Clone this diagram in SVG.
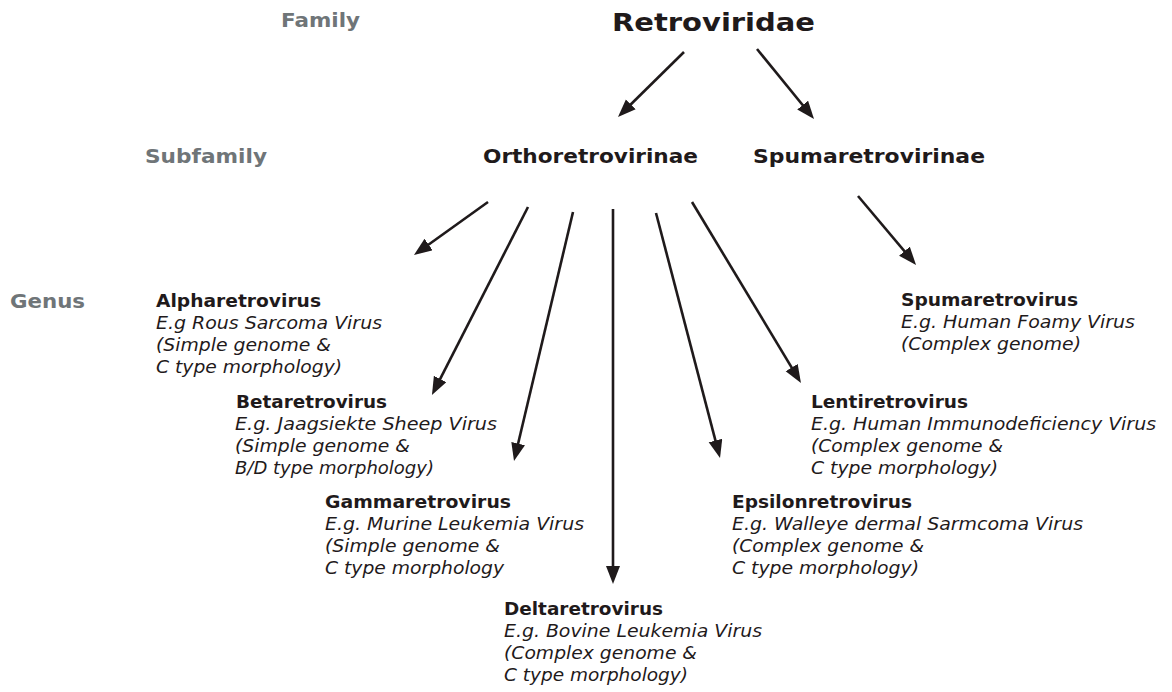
<svg xmlns="http://www.w3.org/2000/svg" width="1172" height="692" viewBox="0 0 1172 692">
  <style>
    text { font-family: "DejaVu Sans", Verdana, sans-serif; fill: #1f1a1b; }
    .rank { font-weight: bold; font-size: 19px; fill: #6f7578; }
    .top { font-weight: bold; font-size: 24px; }
    .sub { font-weight: bold; font-size: 20px; }
    .name { font-weight: bold; font-size: 18px; }
    .ex { font-style: italic; font-size: 18px; }
    .arrow { stroke: #1f1a1b; stroke-width: 2.6; fill: none; marker-end: url(#head); }
  </style>
  <defs>
    <marker id="head" markerUnits="userSpaceOnUse" markerWidth="20" markerHeight="16" refX="8" refY="7" orient="auto">
      <path d="M0,0 L18,7 L0,14 z" fill="#1f1a1b"/>
    </marker>
  </defs>

  <rect width="1172" height="692" fill="#ffffff"/>

  <!-- rank labels -->
  <g id="ranks">
    <text class="rank" x="281" y="27" textLength="79" lengthAdjust="spacingAndGlyphs">Family</text>
    <text class="rank" x="145" y="163" textLength="122" lengthAdjust="spacingAndGlyphs">Subfamily</text>
    <text class="rank" x="10" y="308" textLength="75" lengthAdjust="spacingAndGlyphs">Genus</text>
  </g>

  <g id="retroviridae"><text class="top" x="612" y="31" textLength="203" lengthAdjust="spacingAndGlyphs">Retroviridae</text></g>
  <g id="orthoretrovirinae"><text class="sub" x="483" y="163" textLength="215" lengthAdjust="spacingAndGlyphs">Orthoretrovirinae</text></g>
  <g id="spumaretrovirinae"><text class="sub" x="753" y="163" textLength="232" lengthAdjust="spacingAndGlyphs">Spumaretrovirinae</text></g>

  <g id="alpharetrovirus">
    <text class="name" x="156" y="307" textLength="165" lengthAdjust="spacingAndGlyphs">Alpharetrovirus</text>
    <text class="ex" x="156" y="329" textLength="226" lengthAdjust="spacingAndGlyphs">E.g Rous Sarcoma Virus</text>
    <text class="ex" x="156" y="351" textLength="175" lengthAdjust="spacingAndGlyphs">(Simple genome &amp;</text>
    <text class="ex" x="156" y="373" textLength="186" lengthAdjust="spacingAndGlyphs">C type morphology)</text>
  </g>
  <g id="betaretrovirus">
    <text class="name" x="236" y="408" textLength="151" lengthAdjust="spacingAndGlyphs">Betaretrovirus</text>
    <text class="ex" x="235" y="430" textLength="262" lengthAdjust="spacingAndGlyphs">E.g. Jaagsiekte Sheep Virus</text>
    <text class="ex" x="235" y="452" textLength="175" lengthAdjust="spacingAndGlyphs">(Simple genome &amp;</text>
    <text class="ex" x="235" y="474" textLength="199" lengthAdjust="spacingAndGlyphs">B/D type morphology)</text>
  </g>
  <g id="gammaretrovirus">
    <text class="name" x="325" y="508" textLength="186" lengthAdjust="spacingAndGlyphs">Gammaretrovirus</text>
    <text class="ex" x="325" y="530" textLength="259" lengthAdjust="spacingAndGlyphs">E.g. Murine Leukemia Virus</text>
    <text class="ex" x="325" y="552" textLength="175" lengthAdjust="spacingAndGlyphs">(Simple genome &amp;</text>
    <text class="ex" x="325" y="574" textLength="179" lengthAdjust="spacingAndGlyphs">C type morphology</text>
  </g>
  <g id="deltaretrovirus">
    <text class="name" x="504" y="615" textLength="159" lengthAdjust="spacingAndGlyphs">Deltaretrovirus</text>
    <text class="ex" x="504" y="637" textLength="258" lengthAdjust="spacingAndGlyphs">E.g. Bovine Leukemia Virus</text>
    <text class="ex" x="504" y="659" textLength="193" lengthAdjust="spacingAndGlyphs">(Complex genome &amp;</text>
    <text class="ex" x="504" y="681" textLength="184" lengthAdjust="spacingAndGlyphs">C type morphology)</text>
  </g>
  <g id="epsilonretrovirus">
    <text class="name" x="732" y="508" textLength="180" lengthAdjust="spacingAndGlyphs">Epsilonretrovirus</text>
    <text class="ex" x="732" y="530" textLength="351" lengthAdjust="spacingAndGlyphs">E.g. Walleye dermal Sarmcoma Virus</text>
    <text class="ex" x="732" y="552" textLength="192" lengthAdjust="spacingAndGlyphs">(Complex genome &amp;</text>
    <text class="ex" x="732" y="574" textLength="187" lengthAdjust="spacingAndGlyphs">C type morphology)</text>
  </g>
  <g id="lentiretrovirus">
    <text class="name" x="811" y="408" textLength="157" lengthAdjust="spacingAndGlyphs">Lentiretrovirus</text>
    <text class="ex" x="811" y="430" textLength="345" lengthAdjust="spacingAndGlyphs">E.g. Human Immunodeficiency Virus</text>
    <text class="ex" x="811" y="452" textLength="192" lengthAdjust="spacingAndGlyphs">(Complex genome &amp;</text>
    <text class="ex" x="811" y="474" textLength="187" lengthAdjust="spacingAndGlyphs">C type morphology)</text>
  </g>
  <g id="spumaretrovirus">
    <text class="name" x="901" y="306" textLength="177" lengthAdjust="spacingAndGlyphs">Spumaretrovirus</text>
    <text class="ex" x="901" y="328" textLength="234" lengthAdjust="spacingAndGlyphs">E.g. Human Foamy Virus</text>
    <text class="ex" x="901" y="350" textLength="180" lengthAdjust="spacingAndGlyphs">(Complex genome)</text>
  </g>

  <!-- connectors -->
  <g id="connectors">
    <path class="arrow" d="M684,52 L625.1,110"/>
    <path class="arrow" d="M757,49 L807.7,111.3"/>
    <path class="arrow" d="M488,202 L422.1,249.2"/>
    <path class="arrow" d="M528,207 L436.5,386.1"/>
    <path class="arrow" d="M573,212 L516.3,451.3"/>
    <path class="arrow" d="M613,209 L613,574"/>
    <path class="arrow" d="M656,213 L717.5,448.3"/>
    <path class="arrow" d="M692,202 L795.8,374.4"/>
    <path class="arrow" d="M858,196 L909.6,257.3"/>
  </g>
</svg>
